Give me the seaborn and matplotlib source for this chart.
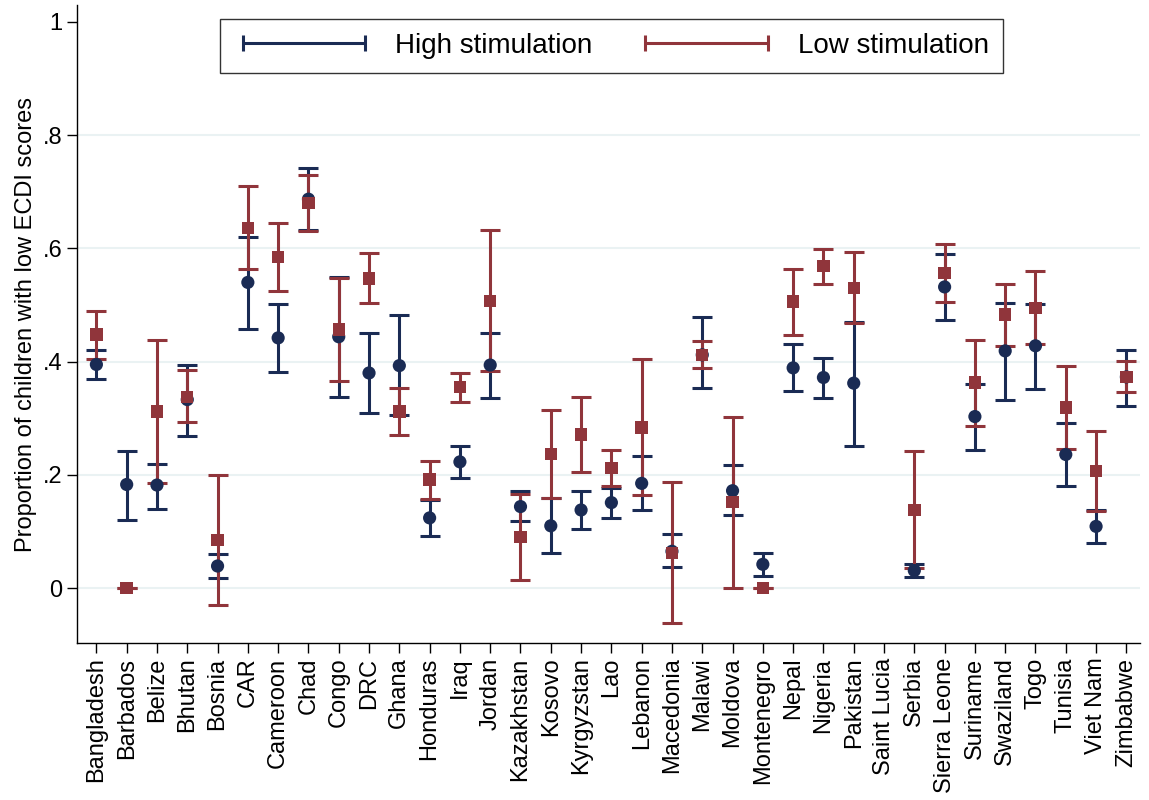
import numpy as np
import pandas as pd
import matplotlib
matplotlib.use("Agg")
import matplotlib.pyplot as plt
import seaborn as sns
from matplotlib.lines import Line2D

countries = ["Bangladesh","Barbados","Belize","Bhutan","Bosnia","CAR","Cameroon","Chad","Congo","DRC",
             "Ghana","Honduras","Iraq","Jordan","Kazakhstan","Kosovo","Kyrgyzstan","Lao","Lebanon","Macedonia",
             "Malawi","Moldova","Montenegro","Nepal","Nigeria","Pakistan","Saint Lucia","Serbia","Sierra Leone",
             "Suriname","Swaziland","Togo","Tunisia","Viet Nam","Zimbabwe"]
nan = np.nan
high_mean = [.395,.183,.182,.333,.039,.540,.442,.687,.444,.380,.393,.124,.223,.394,.144,.110,.138,.151,.185,.065,
             .412,.172,.042,.389,.372,.362,nan,.031,.532,.303,.419,.428,.236,.109,.373]
high_lo = [.370,.120,.140,.268,.018,.458,.382,.632,.337,.310,.305,.092,.195,.335,.118,.062,.105,.124,.138,.038,
           .353,.129,.022,.349,.335,.251,nan,.019,.474,.244,.333,.352,.180,.079,.321]
high_hi = [.420,.243,.220,.394,.060,.620,.502,.742,.550,.451,.482,.155,.251,.451,.171,.160,.172,.176,.233,.095,
           .478,.217,.062,.432,.406,.470,nan,.042,.590,.361,.503,.501,.291,.138,.420]
low_mean = [.448,0,.312,.338,.085,.636,.585,.680,.457,.547,.312,.192,.355,.507,.090,.237,.271,.212,.284,.062,
            .412,.152,0,.506,.569,.530,nan,.138,.557,.363,.483,.495,.319,.207,.373]
low_lo = [.405,0,.186,.293,-.030,.563,.525,.630,.366,.503,.270,.157,.329,.384,.014,.160,.205,.180,.164,-.062,
          .389,.001,0,.447,.538,.468,nan,.036,.506,.287,.427,.432,.246,.136,.346]
low_hi = [.490,0,.438,.385,.200,.710,.645,.730,.548,.592,.353,.225,.380,.633,.167,.314,.337,.244,.404,.187,
          .437,.303,0,.564,.599,.594,nan,.243,.608,.438,.538,.561,.393,.278,.402]

navy = "#1a2b54"
maroon = "#90353b"

sns.set_style("white")
plt.rcParams['font.family'] = ['Liberation Sans', 'DejaVu Sans']
plt.rcParams['text.color'] = 'black'
plt.rcParams['axes.labelcolor'] = 'black'
plt.rcParams['xtick.color'] = 'black'
plt.rcParams['ytick.color'] = 'black'

fig = plt.figure(figsize=(11.49, 8), dpi=100)
ax = fig.add_axes([77/1149, 1-643/800, (1140-77)/1149, (643-5)/800])

x = np.arange(len(countries))
df = pd.DataFrame({"x": x, "hm": high_mean, "hl": high_lo, "hh": high_hi,
                   "lm": low_mean, "ll": low_lo, "lh": low_hi})

for m, lo, hi, c in [("hm","hl","hh",navy), ("lm","ll","lh",maroon)]:
    d = df.dropna()
    ax.errorbar(d["x"], d[m], yerr=[d[m]-d[lo], d[hi]-d[m]], fmt="none",
                ecolor=c, elinewidth=2.2, capsize=7, capthick=2.2, zorder=3)
sns.scatterplot(data=df, x="x", y="hm", ax=ax, color=navy, marker="o", s=90, edgecolor="none", zorder=4)
sns.scatterplot(data=df, x="x", y="lm", ax=ax, color=maroon, marker="s", s=80, edgecolor="none", zorder=5)

ax.set_xlim(-0.64, len(countries) - 1 + 0.45)
ax.set_ylim(-0.097, 1.03)
ax.set_yticks([0, .2, .4, .6, .8, 1])
ax.set_yticklabels(["0", ".2", ".4", ".6", ".8", "1"], fontsize=17)
ax.set_xticks(x)
ax.set_xticklabels(countries, rotation=90, fontsize=17)
ax.tick_params(axis="both", direction="out", length=7, width=1, color="black", labelcolor="black",
               left=True, bottom=True)
for yv in [0, .2, .4, .6, .8]:
    ax.axhline(yv, color="#eaf2f3", lw=1.5, zorder=0)
for s in ["top", "right"]:
    ax.spines[s].set_visible(False)
for s in ["left", "bottom"]:
    ax.spines[s].set_color("black")
    ax.spines[s].set_linewidth(1)
ax.set_xlabel("")
ax.set_ylabel("Proportion of children with low ECDI scores", fontsize=17, color="black")

handles = [Line2D([0, 1], [0, 0], color=navy, lw=2.2, marker="|", markersize=12, markeredgewidth=2.2),
           Line2D([0, 1], [0, 0], color=maroon, lw=2.2, marker="|", markersize=12, markeredgewidth=2.2)]
leg = ax.legend(handles, ["High stimulation", "Low stimulation"], loc="upper center",
                bbox_to_anchor=(0.503, 1.0), ncol=2, fontsize=20, numpoints=2, handlelength=5,
                frameon=True, fancybox=False, edgecolor="black", columnspacing=1.6, borderpad=0.5)
leg.get_frame().set_linewidth(1)

fig.savefig("out.png", dpi=100, facecolor="white")
